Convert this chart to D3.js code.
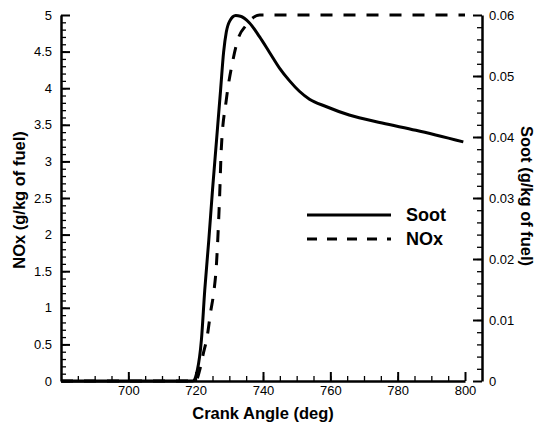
<!DOCTYPE html>
<html>
<head>
<meta charset="utf-8">
<script src="https://cdn.jsdelivr.net/npm/d3@7"></script>
<style>
body { margin: 0; background: #fff; }
text { font-family: "Liberation Sans", Arial, sans-serif; }
</style>
</head>
<body>
<div id="chart"></div>
<script>
// crank angle (deg) vs soot (right axis, g/kg of fuel)
var sootAngle = [680, 719.1, 720.5, 721.7, 722.7, 723.9, 725.0, 726.2, 727.4, 728.3, 729.1, 730.1, 731.9, 733.3, 736, 739, 741.9, 744.9, 747.9, 750.8, 753.8, 758.7, 765.6, 775.4, 785.4, 799.5];
var sootVal   = [0, 0, 0.0018, 0.0067, 0.0149, 0.0231, 0.0313, 0.0395, 0.0477, 0.0539, 0.0572, 0.0590, 0.0599, 0.0598, 0.0587, 0.0564, 0.0539, 0.0513, 0.0492, 0.0475, 0.0462, 0.0450, 0.0436, 0.0423, 0.0411, 0.0392];
// crank angle vs NOx (left axis, g/kg of fuel)
var noxAngle = [680, 720, 721.2, 722.2, 723.5, 724.4, 725.4, 726.1, 726.8, 727.1, 727.6, 729.1, 731.1, 732.5, 735, 739, 800];
var noxVal   = [0, 0, 0.15, 0.36, 0.63, 0.93, 1.22, 1.54, 2.17, 2.5, 3.16, 3.84, 4.39, 4.66, 4.86, 5.0, 5.0];

var xTicks = [700, 720, 740, 760, 780, 800];
var leftTicks = [0, 0.5, 1, 1.5, 2, 2.5, 3, 3.5, 4, 4.5, 5];
var rightTicks = [0, 0.01, 0.02, 0.03, 0.04, 0.05, 0.06];

var W = 539, H = 432;
var pl = 61, pr = 465, pt = 15, pb = 381, rAxisX = 482;

var svg = d3.select("#chart").append("svg").attr("width", W).attr("height", H);

var x = d3.scaleLinear().domain([680, 800]).range([pl, pr]);
var yL = d3.scaleLinear().domain([0, 5]).range([pb, pt]);
var yR = d3.scaleLinear().domain([0, 0.06]).range([pb, pt]);

function styleAxis(g, major) {
  g.attr("font-size", 13).attr("font-family", null);
  g.selectAll(".domain").attr("stroke", "#000").attr("stroke-width", 2.5);
  g.selectAll(".tick line").attr("stroke", "#000").attr("stroke-width", major ? 2 : 1.3);
  g.selectAll(".tick text").attr("fill", "#000");
}

// minor ticks first
svg.append("g").attr("transform", "translate(0," + pb + ")")
  .call(d3.axisBottom(x).tickValues(d3.range(685, 800, 5)).tickSize(-5).tickFormat(""))
  .call(function(g){ g.select(".domain").remove(); styleAxis(g, false); });
svg.append("g").attr("transform", "translate(" + pl + ",0)")
  .call(d3.axisLeft(yL).tickValues(d3.range(0.1, 5, 0.1)).tickSize(-5).tickFormat(""))
  .call(function(g){ g.select(".domain").remove(); styleAxis(g, false); });
svg.append("g").attr("transform", "translate(" + rAxisX + ",0)")
  .call(d3.axisRight(yR).tickValues(d3.range(0.002, 0.06, 0.002)).tickSize(-5).tickFormat(""))
  .call(function(g){ g.select(".domain").remove(); styleAxis(g, false); });

// major axes
svg.append("g").attr("transform", "translate(0," + pb + ")")
  .call(d3.axisBottom(x).tickValues(xTicks).tickSizeInner(-9).tickSizeOuter(0).tickPadding(5))
  .call(function(g){ styleAxis(g, true); });
svg.append("g").attr("transform", "translate(" + pl + ",0)")
  .call(d3.axisLeft(yL).tickValues(leftTicks).tickSizeInner(-9).tickSizeOuter(0).tickPadding(9).tickFormat(d3.format("")))
  .call(function(g){ styleAxis(g, true); });
svg.append("g").attr("transform", "translate(" + rAxisX + ",0)")
  .call(d3.axisRight(yR).tickValues(rightTicks).tickSizeInner(-9).tickSizeOuter(0).tickPadding(7).tickFormat(d3.format("")))
  .call(function(g){ styleAxis(g, true); });

// curves
var sootLine = d3.line().x(function(d){ return x(d[0]); }).y(function(d){ return yR(d[1]); }).curve(d3.curveMonotoneX);
var noxLine = d3.line().x(function(d){ return x(d[0]); }).y(function(d){ return yL(d[1]); }).curve(d3.curveMonotoneX);

svg.append("path").datum(d3.zip(noxAngle, noxVal))
  .attr("d", noxLine).attr("fill", "none").attr("stroke", "#000")
  .attr("stroke-width", 3).attr("stroke-dasharray", "12,11");
svg.append("path").datum(d3.zip(sootAngle, sootVal))
  .attr("d", sootLine).attr("fill", "none").attr("stroke", "#000")
  .attr("stroke-width", 3);

// axis titles
svg.append("text").attr("x", (pl + pr) / 2).attr("y", 419)
  .attr("text-anchor", "middle").attr("font-size", 16.5).attr("font-weight", "bold")
  .text("Crank Angle (deg)");
svg.append("text").attr("transform", "translate(25,200) rotate(-90)")
  .attr("text-anchor", "middle").attr("font-size", 16.5).attr("font-weight", "bold")
  .text("NOx (g/kg of fuel)");
svg.append("text").attr("transform", "translate(521,196) rotate(90)")
  .attr("text-anchor", "middle").attr("font-size", 16.5).attr("font-weight", "bold")
  .text("Soot (g/kg of fuel)");

// legend
var legend = [["Soot", null], ["NOx", "10,10"]];
legend.forEach(function(l, i) {
  var ly = 215 + i * 24;
  svg.append("line").attr("x1", 307).attr("x2", 391).attr("y1", ly).attr("y2", ly)
    .attr("stroke", "#000").attr("stroke-width", 3).attr("stroke-dasharray", l[1]);
  svg.append("text").attr("x", 406).attr("y", ly + 6).attr("font-size", 18)
    .attr("font-weight", "bold").text(l[0]);
});
</script>
</body>
</html>
